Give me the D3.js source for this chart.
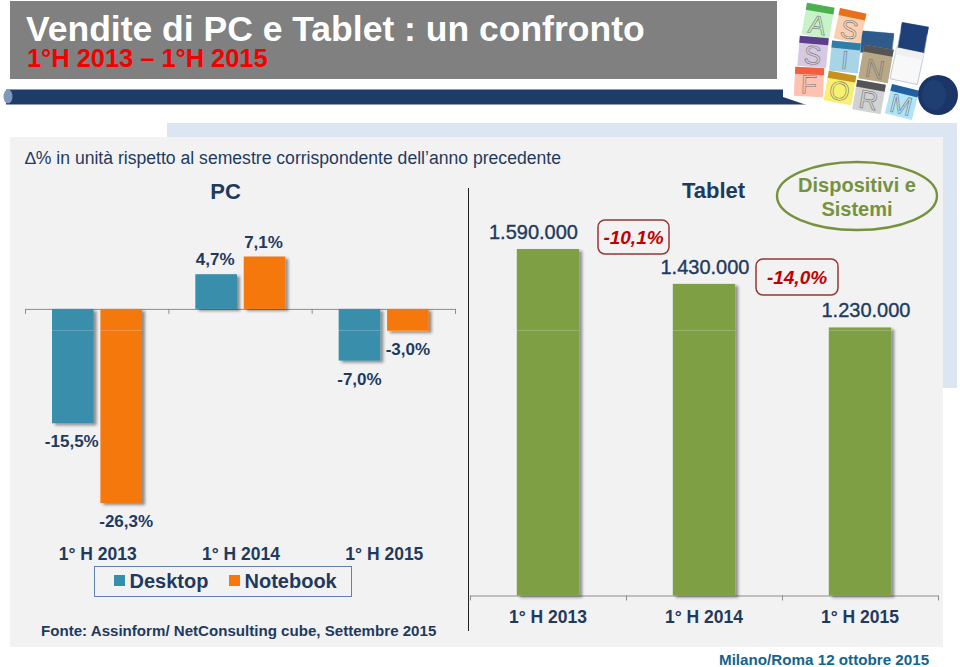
<!DOCTYPE html>
<html><head><meta charset="utf-8">
<script src="https://cdnjs.cloudflare.com/ajax/libs/d3/7.8.5/d3.min.js"></script>
<style>html,body{margin:0;padding:0;background:#fff;overflow:hidden}svg{display:block}text{font-family:"Liberation Sans",Arial,sans-serif}</style>
</head><body><svg id="c" width="960" height="667"></svg>
<script>
const semesters = ["1° H 2013","1° H 2014","1° H 2015"];
const pcSeries = ["Desktop","Notebook"];
const desktopValues = [-15.5,4.7,-7.0];
const notebookValues = [-26.3,7.1,-3.0];
const tabletValues = [1590000,1430000,1230000];
const tabletChanges = ["-10,1%","-14,0%"];
const pcColors = ["#378EAB","#F5780F"];
const tabletColor = "#7F9F45";
const ink = "#1F3A5F";

const svg = d3.select("#c");
const defs = svg.append("defs");
const f = defs.append("filter").attr("id","sh").attr("x","-20%").attr("y","-20%").attr("width","150%").attr("height","150%");
f.append("feDropShadow").attr("dx",3).attr("dy",2).attr("stdDeviation",1.8).attr("flood-color","#000").attr("flood-opacity",.42);

// page frame
svg.append("rect").attr("x",10).attr("y",1).attr("width",767).attr("height",78).attr("fill","#808080");
svg.append("text").attr("x",26).attr("y",41).attr("font-size",35.5).attr("font-weight",700).attr("fill","#fff").text("Vendite di PC e Tablet : un confronto");
svg.append("text").attr("x",27).attr("y",67).attr("font-size",25.4).attr("font-weight",700).attr("fill","#F00000").text("1°H 2013 – 1°H 2015");
svg.append("rect").attr("x",6).attr("y",89.5).attr("width",800).attr("height",15).attr("fill","#1F3B68");
svg.append("ellipse").attr("cx",8).attr("cy",96.5).attr("rx",4.5).attr("ry",7).attr("fill","#7F97BC");

// logo
svg.append("path").attr("d","M783 97 L783 85 L800 72 L915 118 L905 119 L805 104.5 Z").attr("fill","#fff");
const tiles = [
 {c:[877,43],w:32,h:22,r:5,f:"#2F5A8C",h2:"#2F5A8C",l:""},
 {c:[818,21],w:28,h:32,r:10,f:"#C8F2C8",h2:"#4CAF50",l:"A"},
 {c:[850,26],w:27,h:31,r:12,f:"#FBD0B2",h2:"#E8701A",l:"S"},
 {c:[913,38],w:27,h:27,r:10,f:"#1F3F78",h2:"#1F3F78",l:""},
 {c:[813,52],w:29,h:30,r:5,f:"#D5CAE2",h2:"#5B3F8C",l:"S"},
 {c:[845,57],w:29,h:30,r:6,f:"#A8D4E8",h2:"#2F7FA8",l:"I"},
 {c:[907,66],w:28,h:32,r:12,f:"#F8F8F8",h2:"#F0F0F0",l:""},
 {c:[876,64],w:30,h:34,r:10,f:"#B8A888",h2:"#555",l:"N"},
 {c:[809,82],w:29,h:29,r:3,f:"#FDC2B2",h2:"#F06040",l:"F"},
 {c:[840,88],w:28,h:30,r:10,f:"#F8F070",h2:"#C89020",l:"O"},
 {c:[869,97],w:29,h:30,r:10,f:"#D2D2D2",h2:"#555",l:"R"},
 {c:[902,102],w:28,h:30,r:14,f:"#B2E4F8",h2:"#2060A0",l:"M"}
];
const tg = svg.append("g").selectAll("g").data(tiles).join("g").attr("transform",d=>`translate(${d.c}) rotate(${d.r})`);
tg.append("rect").attr("x",d=>-d.w/2).attr("y",d=>-d.h/2).attr("width",d=>d.w).attr("height",d=>d.h).attr("fill",d=>d.f).attr("stroke",d=>d.l?"none":"#9DB0C8").attr("stroke-width",.6);
tg.append("rect").attr("x",d=>-d.w/2).attr("y",d=>-d.h/2).attr("width",d=>d.w).attr("height",7).attr("fill",d=>d.h2);
tg.append("text").attr("text-anchor","middle").attr("y",d=>d.h/2-3).attr("font-size",26).attr("fill","none").attr("stroke","#777").attr("stroke-width",.6).text(d=>d.l);
svg.append("ellipse").attr("cx",938).attr("cy",95).attr("rx",20).attr("ry",20).attr("fill","#1A3566");
svg.append("ellipse").attr("cx",934).attr("cy",95).attr("rx",12).attr("ry",15).attr("fill","#1F3F72");

// panels
svg.append("rect").attr("x",167).attr("y",123).attr("width",790).attr("height",265).attr("fill","#DCE6F2");
svg.append("rect").attr("x",10).attr("y",137).attr("width",933).attr("height",510).attr("fill","#F2F2F2");
svg.append("text").attr("x",25).attr("y",164).attr("font-size",17.6).attr("fill",ink).text("∆% in unità rispetto al semestre corrispondente dell’anno precedente");
svg.append("line").attr("x1",468.5).attr("x2",468.5).attr("y1",188).attr("y2",631).attr("stroke","#222").attr("stroke-width",1);

// axes
const axisStyle = (g,x,labelY,labelDx)=>{
  g.call(d3.axisBottom(x).tickSize(0));
  g.select(".domain").attr("stroke","#8C8C8C");
  g.selectAll(".tick text").attr("font-size",17.5).attr("font-weight",700).attr("fill",ink).style("font-family",'"Liberation Sans"').attr("y",labelY).attr("x",labelDx).attr("dy",null);
  const edges = x.domain().map(d=>x(d)).concat(x.range()[1]);
  g.selectAll("line.edge").data(edges).join("line").attr("class","edge").attr("x1",d=>d+.5).attr("x2",d=>d+.5).attr("y1",0).attr("y2",5).attr("stroke","#8C8C8C");
};

// PC chart
const xPc = d3.scaleBand().domain(semesters).range([25,455]);
const xS = d3.scaleBand().domain(pcSeries).range([27,117]).paddingInner(.14);
const yPc = d3.scaleLinear().domain([-26.3,7.1]).range([503,256.5]);
svg.append("g").attr("transform",`translate(0,${yPc(0)})`).call(axisStyle,xPc,251,1);

const pcData = semesters.flatMap((c,i)=>[{c,s:pcSeries[0],v:desktopValues[i],k:0},{c,s:pcSeries[1],v:notebookValues[i],k:1}]);
svg.append("g").selectAll("rect").data(pcData).join("rect").attr("x",d=>xPc(d.c)+xS(d.s)).attr("width",xS.bandwidth())
  .attr("y",d=>Math.min(yPc(d.v),yPc(0))).attr("height",d=>Math.abs(yPc(d.v)-yPc(0)))
  .attr("fill",d=>pcColors[d.k]).attr("filter","url(#sh)");
const fmt = v=>d3.format(".1f")(v).replace(".",",").replace("−","-")+"%";
const nudge = {"-26.3":5,"-15.5":-1};
svg.append("g").selectAll("text").data(pcData).join("text")
  .attr("text-anchor","middle").attr("font-size",17).attr("font-weight",700).attr("fill",ink)
  .attr("x",d=>xPc(d.c)+xS(d.s)+xS.bandwidth()/2+(nudge[d.v]||0)-(d.v>0?1:0))
  .attr("y",d=>d.v>0?yPc(d.v)-9:yPc(d.v)+24).text(d=>fmt(d.v));

svg.append("text").attr("x",225.5).attr("y",199).attr("text-anchor","middle").attr("font-size",22).attr("font-weight",700).attr("fill",ink).text("PC");
svg.append("text").attr("x",713.5).attr("y",198).attr("text-anchor","middle").attr("font-size",22).attr("font-weight",700).attr("fill",ink).text("Tablet");

// legend
svg.append("rect").attr("x",94.5).attr("y",566.5).attr("width",257).attr("height",30).attr("fill","none").attr("stroke","#5F82AE").attr("stroke-width",1);
const legendX = d3.scaleOrdinal().domain(pcSeries).range([114,229]);
const lg = svg.append("g").selectAll("g").data(pcSeries).join("g").attr("transform",d=>`translate(${legendX(d)},575)`);
lg.append("rect").attr("width",11).attr("height",11).attr("fill",(d,i)=>pcColors[i]);
lg.append("text").attr("x",15.5).attr("y",13).attr("font-size",20).attr("font-weight",700).attr("fill",ink).text(d=>d);

svg.append("text").attr("x",41).attr("y",636).attr("font-size",15.1).attr("font-weight",700).attr("fill",ink).text("Fonte: Assinform/ NetConsulting cube, Settembre 2015");
svg.append("text").attr("x",719).attr("y",665).attr("font-size",15.2).attr("font-weight",700).attr("fill","#14648C").text("Milano/Roma 12 ottobre 2015");

// Tablet chart
const xT = d3.scaleBand().domain(semesters).range([470,938]);
const yT = d3.scaleLinear().domain([0,1590000]).range([595.5,249]);
const barW = xT.bandwidth()*.4;
svg.append("g").attr("transform",`translate(0,${yT(0)})`).call(axisStyle,xT,27.5,0);
svg.append("g").selectAll("rect").data(semesters).join("rect")
  .attr("x",d=>xT(d)+(xT.bandwidth()-barW)/2).attr("width",barW)
  .attr("y",(d,i)=>yT(tabletValues[i])).attr("height",(d,i)=>yT(0)-yT(tabletValues[i]))
  .attr("fill",tabletColor).attr("filter","url(#sh)");
const fmtT = v=>d3.format(",")(v).replace(/,/g,".");
const labelShift = [-14.5,1,6];
svg.append("g").selectAll("text").data(semesters).join("text")
  .attr("text-anchor","middle").attr("font-size",20).attr("fill",ink).attr("stroke",ink).attr("stroke-width",.35)
  .attr("x",(d,i)=>xT(d)+xT.bandwidth()/2+labelShift[i])
  .attr("y",(d,i)=>yT(tabletValues[i])-10).text((d,i)=>fmtT(tabletValues[i]));

// faint seams across bars
const seam = svg.append("g").attr("fill","#fff").attr("opacity",.2);
pcData.filter(d=>yPc(d.v)>330).forEach(d=>seam.append("rect").attr("x",xPc(d.c)+xS(d.s)).attr("y",330).attr("width",xS.bandwidth()).attr("height",1));
semesters.forEach(d=>seam.append("rect").attr("x",xT(d)+(xT.bandwidth()-barW)/2).attr("y",330).attr("width",barW).attr("height",1));

// callouts
const boxes = [{x:598,y:220,w:71,h:34},{x:756,y:259,w:82,h:36}];
const cg = svg.append("g").selectAll("g").data(tabletChanges).join("g");
cg.append("rect").attr("x",(d,i)=>boxes[i].x).attr("y",(d,i)=>boxes[i].y).attr("width",(d,i)=>boxes[i].w).attr("height",(d,i)=>boxes[i].h)
  .attr("rx",7).attr("fill","#F2F2F2").attr("stroke","#953735").attr("stroke-width",1.5);
cg.append("text").attr("x",(d,i)=>boxes[i].x+boxes[i].w/2).attr("y",(d,i)=>boxes[i].y+boxes[i].h/2+6.5)
  .attr("text-anchor","middle").attr("font-size",19).attr("font-style","italic").attr("font-weight",700).attr("fill","#C00000").text(d=>d);

// ellipse tag
svg.append("ellipse").attr("cx",857).attr("cy",196).attr("rx",80).attr("ry",34).attr("fill","#F2F2F2").attr("stroke","#76923C").attr("stroke-width",2.4);
svg.append("text").attr("x",857).attr("y",192).attr("text-anchor","middle").attr("font-size",20).attr("font-weight",700).attr("fill","#76923C").text("Dispositivi e");
svg.append("text").attr("x",857).attr("y",216).attr("text-anchor","middle").attr("font-size",20).attr("font-weight",700).attr("fill","#76923C").text("Sistemi");
</script></body></html>
